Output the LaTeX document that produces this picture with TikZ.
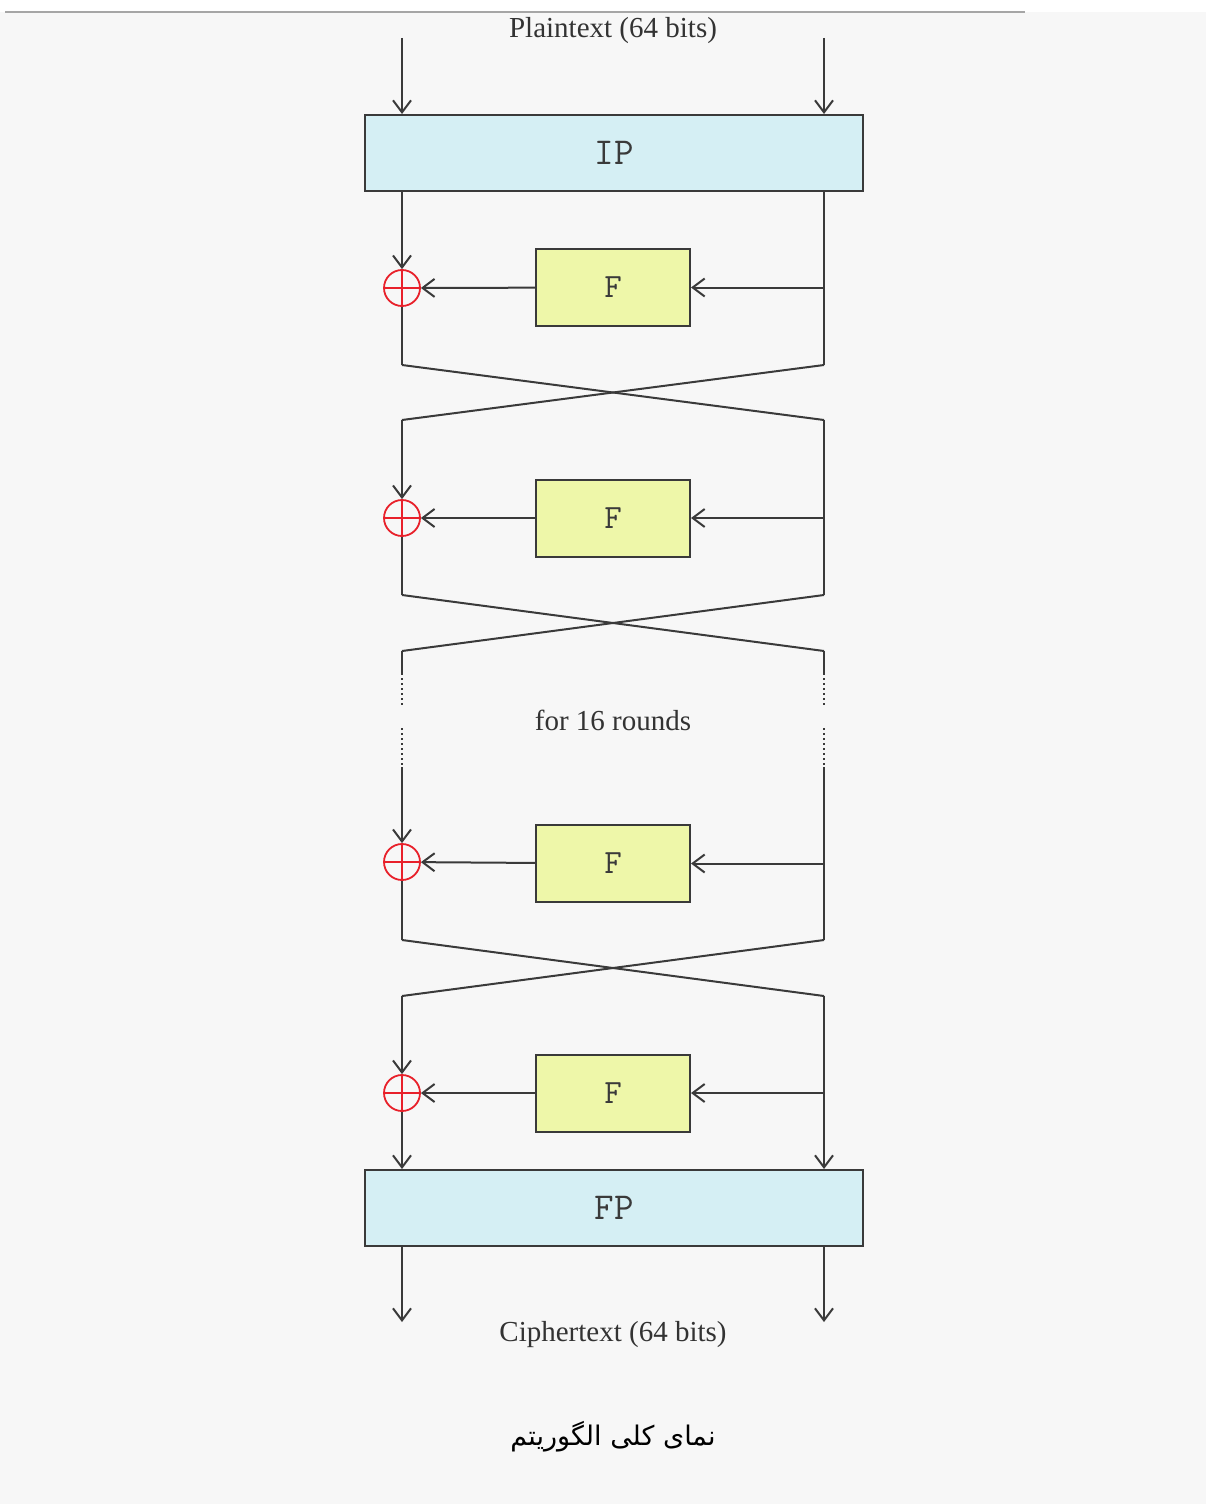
\documentclass[tikz,border=0pt]{standalone}
\usepackage{fontspec}
\setmainfont{Liberation Serif}
\newfontfamily\arabicfont[Script=Arabic]{DejaVu Sans}
\TeXXeTstate=1
\usepackage{tikz}
\usetikzlibrary{arrows.meta,calc,positioning}

\definecolor{ipblue}{HTML}{D5EFF4}
\definecolor{fyellow}{HTML}{EEF7A9}
\definecolor{linegray}{HTML}{3A3A3A}
\definecolor{xorred}{HTML}{E8202A}
\definecolor{bggray}{HTML}{F7F7F7}

\tikzset{
  permbox/.style={draw=linegray, line width=1pt, fill=ipblue,
    minimum width=249pt, minimum height=38pt, inner sep=0pt,
    font=\ttfamily\fontsize{19}{19}\selectfont, text=linegray},
  fbox/.style={draw=linegray, line width=1pt, fill=fyellow,
    minimum width=77pt, minimum height=38.5pt, inner sep=0pt,
    font=\ttfamily\fontsize{17}{17}\selectfont, text=linegray},
  xor/.style={circle, draw=xorred, line width=0.9pt, minimum size=18pt,
    inner sep=0pt,
    path picture={\draw[xorred, line width=0.9pt]
      (path picture bounding box.north) -- (path picture bounding box.south)
      (path picture bounding box.west) -- (path picture bounding box.east);}},
  lbl/.style={font=\fontsize{14.5}{14.5}\selectfont, text=black!80},
  dots/.style={dash pattern=on 1.2pt off 1.3pt, line width=0.8pt}
}

\begin{document}
\begin{tikzpicture}[%
    x=0.5pt, y=-0.5pt,
    >={Straight Barb[length=6pt,width=9pt]},
    line width=1pt,
    draw=linegray
  ]
  \useasboundingbox (0,0) rectangle (1206,1504);
  \fill[white] (0,0) rectangle (1206,12);
  \fill[bggray] (0,12) rectangle (1206,1504);
  \draw[gray!70, line width=0.7pt] (5,12) -- (1025,12);

  % boxes
  \node[permbox] (ip) at (614,153) {IP};
  \node[permbox] (fp) at (614,1208) {FP};
  \node[fbox] (f1) at (613,287.5) {F};
  \node[fbox] (f2) at (613,518) {F};
  \node[fbox] (f3) at (613,863.5) {F};
  \node[fbox] (f4) at (613,1093) {F};
  \node[xor] (x1) at (402,288) {};
  \node[xor] (x2) at (402,518) {};
  \node[xor] (x3) at (402,862) {};
  \node[xor] (x4) at (402,1093) {};

  % texts
  \node[lbl] (plain) at (613,31) {Plaintext (64 bits)};
  \node[lbl] (loop) at (613,720) {for 16 rounds};
  \node[lbl] (cipher) at (613,1335) {Ciphertext (64 bits)};
  \node[font=\fontsize{13.5}{13.5}\selectfont] (caption) at (613,1437)
    {\arabicfont\beginR نمای کلی الگوریتم\endR};

  % rail points
  \coordinate (inl) at (402,38);
  \coordinate (inr) at (824,38);
  \coordinate (l1b) at (402,365);
  \coordinate (r1b) at (824,365);
  \coordinate (l2t) at (402,420);
  \coordinate (r2t) at (824,420);
  \coordinate (l2b) at (402,595);
  \coordinate (r2b) at (824,595);
  \coordinate (l3t) at (402,651);
  \coordinate (r3t) at (824,651);
  \coordinate (l3d1) at (402,673);
  \coordinate (r3d1) at (824,673);
  \coordinate (l3d2) at (402,706);
  \coordinate (r3d2) at (824,706);
  \coordinate (l3d3) at (402,728);
  \coordinate (r3d3) at (824,728);
  \coordinate (l3d4) at (402,767);
  \coordinate (r3d4) at (824,767);
  \coordinate (l3b) at (402,940);
  \coordinate (r3b) at (824,940);
  \coordinate (l4t) at (402,996);
  \coordinate (r4t) at (824,996);
  \coordinate (outl) at (402,1322);
  \coordinate (outr) at (824,1322);

  % input
  \draw[->] (inl) -- (inl |- ip.north);
  \draw[->] (inr) -- (inr |- ip.north);

  % round 1
  \draw[->] (ip.south -| x1) -- (x1);
  \draw (ip.south -| r1b) -- (r1b);
  \draw[->] (r1b |- f1) -- (f1);
  \draw[->] (f1) -- (x1);
  \draw (x1) -- (l1b);
  \draw (l1b) -- (r2t);
  \draw (r1b) -- (l2t);

  % round 2
  \draw[->] (l2t) -- (x2);
  \draw (r2t) -- (r2b);
  \draw[->] (r2b |- f2) -- (f2);
  \draw[->] (f2) -- (x2);
  \draw (x2) -- (l2b);
  \draw (l2b) -- (r3t);
  \draw (r2b) -- (l3t);

  % skipped rounds
  \draw (l3t) -- (l3d1);
  \draw (r3t) -- (r3d1);
  \draw[dots] (l3d1) -- (l3d2);
  \draw[dots] (r3d1) -- (r3d2);
  \draw[dots] (l3d3) -- (l3d4);
  \draw[dots] (r3d3) -- (r3d4);

  % round 15
  \draw[->] (l3d4) -- (x3);
  \draw (r3d4) -- (r3b);
  \draw[->] (r3b |- f3) -- (f3);
  \draw[->] (f3) -- (x3);
  \draw (x3) -- (l3b);
  \draw (l3b) -- (r4t);
  \draw (r3b) -- (l4t);

  % round 16
  \draw[->] (l4t) -- (x4);
  \draw[->] (r4t) -- (r4t |- fp.north);
  \draw[->] (r4t |- f4) -- (f4);
  \draw[->] (f4) -- (x4);
  \draw[->] (x4) -- (x4 |- fp.north);

  % output
  \draw[->] (fp.south -| outl) -- (outl);
  \draw[->] (fp.south -| outr) -- (outr);
\end{tikzpicture}
\end{document}
